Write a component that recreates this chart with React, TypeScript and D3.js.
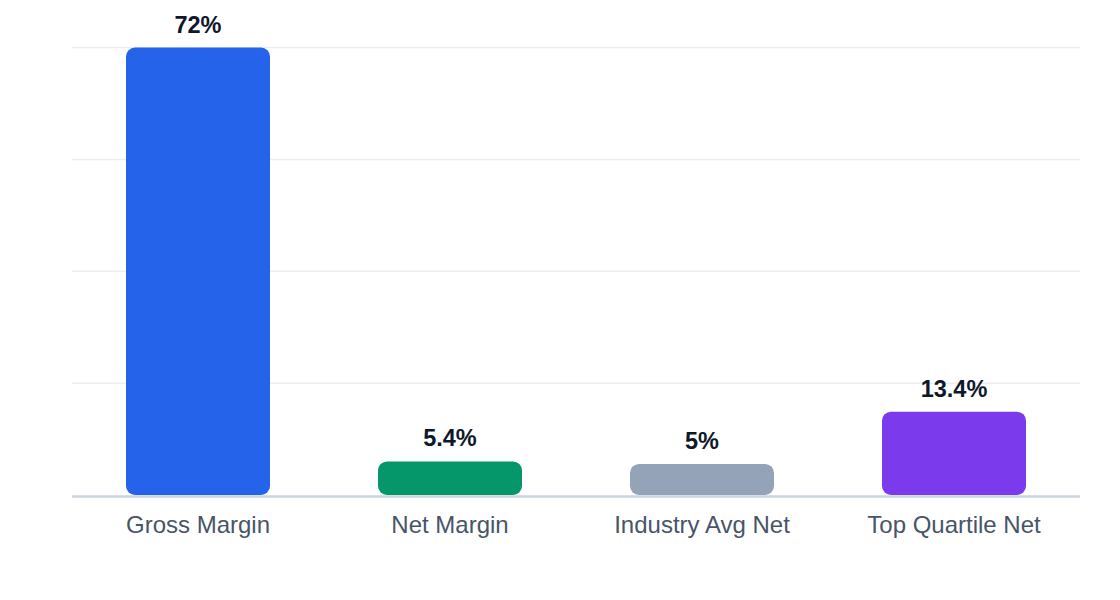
import React from "react";
import * as d3 from "d3";

const categories = ["Gross Margin", "Net Margin", "Industry Avg Net", "Top Quartile Net"];
const values = [72, 5.4, 5, 13.4];
const valueLabels = ["72%", "5.4%", "5%", "13.4%"];
const barColors = ["#2563eb", "#059669", "#94a3b8", "#7c3aed"];
const gridTicks = [0, 18, 36, 54, 72];

const W = 1120;
const H = 600;
const margin = { left: 72, right: 40, top: 47.5, bottom: 105 };
const FONT = '"Liberation Sans", Arial, Helvetica, sans-serif';

export default function App() {
  const x = d3
    .scaleBand<string>()
    .domain(categories)
    .range([margin.left, W - margin.right])
    .paddingInner(3 / 7)
    .paddingOuter(3 / 14);
  const y = d3
    .scaleLinear()
    .domain([0, 72])
    .range([H - margin.bottom, margin.top]);
  const r = 9;

  return (
    <svg
      width={W}
      height={H}
      style={{ position: "absolute", left: 0, top: 0, display: "block", background: "#fff" }}
    >
      {gridTicks.slice(1).map((t) => (
        <line
          key={t}
          x1={margin.left}
          x2={W - margin.right}
          y1={y(t)}
          y2={y(t)}
          stroke="#eceef3"
          strokeWidth={1.5}
        />
      ))}
      {categories.map((c, i) => {
        const x0 = x(c)!;
        const y0 = y(values[i]);
        const h = y(0) - y0;
        return (
          <g key={c}>
            <rect
              x={x0}
              y={y0}
              width={x.bandwidth()}
              height={h}
              rx={Math.min(r, h / 2)}
              ry={Math.min(r, h / 2)}
              fill={barColors[i]}
            />
            <text
              x={x0 + x.bandwidth() / 2}
              y={y0 - 15}
              textAnchor="middle"
              fontFamily={FONT}
              fontWeight="bold"
              fontSize={23.5}
              fill="#0f172a"
            >
              {valueLabels[i]}
            </text>
            <text
              x={x0 + x.bandwidth() / 2}
              y={532.5}
              textAnchor="middle"
              fontFamily={FONT}
              fontSize={24}
              fill="#475569"
            >
              {c}
            </text>
          </g>
        );
      })}
      <line
        x1={margin.left}
        x2={W - margin.right}
        y1={y(0) + 1.5}
        y2={y(0) + 1.5}
        stroke="#cbd5e1"
        strokeWidth={2.5}
      />
    </svg>
  );
}
